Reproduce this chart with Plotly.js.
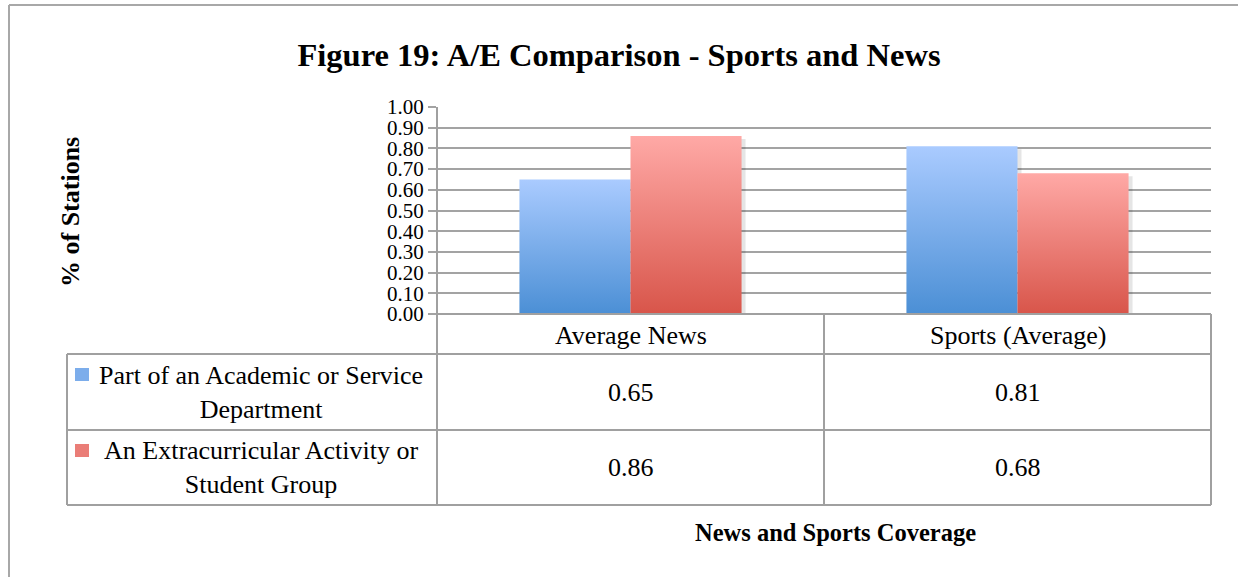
<!DOCTYPE html>
<html>
<head>
<meta charset="utf-8">
<script src="https://cdn.plot.ly/plotly-3.0.1.min.js"></script>
<style>
  html, body { margin: 0; padding: 0; background: #ffffff; overflow: hidden; }
  #chart { width: 1238px; height: 577px; }
</style>
</head>
<body>
<div id="chart"></div>
<script>
// ---------------- data ----------------
const categories = ['Average News', 'Sports (Average)'];
const seriesNames = ['Part of an Academic or Service<br>Department', 'An Extracurricular Activity or<br>Student Group'];
const academic = [0.65, 0.81];
const extracurricular = [0.86, 0.68];
const seriesValues = [academic, extracurricular];
const yTickValues = [0, 0.1, 0.2, 0.3, 0.4, 0.5, 0.6, 0.7, 0.8, 0.9, 1.0];
const chartTitle = 'Figure 19: A/E Comparison - Sports and News';
const yTitle = '% of Stations';
const xTitle = 'News and Sports Coverage';

// ---------------- styles ----------------
const FONT = 'Liberation Serif, Times New Roman, serif';
const GRID = '#a3a3a3';
const LINE = '#a0a0a0';
const gradients = [
  [[0, '#4b8fd5'], [1, '#aacbff']],
  [[0, '#d8554a'], [1, '#ffa9a6']]
];
const keyColors = ['#7cadeb', '#ea7d77'];

const W = 1238, H = 577;
const M = {l: 437, r: 27, t: 107, b: 263};
const PW = W - M.l - M.r, PH = H - M.t - M.b;
const px = x => (x - M.l) / PW;          // pixel -> paper x
const py = y => (H - M.b - y) / PH;      // pixel -> paper y

const bargap = 0.426;
const groupW = 1 - bargap;
const barW = groupW / seriesValues.length;

// ---------------- traces ----------------
const traces = [];
// soft shadows
seriesValues.forEach((vals, s) => {
  vals.forEach((v, i) => {
    const l = i - groupW / 2 + s * barW + 4 / PW * 2;
    const r = l + barW;
    const dy = 3 / PH;
    traces.push({
      type: 'scatter', mode: 'lines', x: [l, l, r, r, l], y: [-dy, v - dy, v - dy, -dy, -dy],
      fill: 'toself', fillcolor: 'rgba(0,0,0,0.10)', line: {width: 0},
      hoverinfo: 'skip', showlegend: false, cliponaxis: false
    });
  });
});
seriesValues.forEach((vals, s) => {
  vals.forEach((v, i) => {
    const l = i - groupW / 2 + s * barW;
    const r = l + barW;
    traces.push({
      type: 'scatter', mode: 'lines', name: seriesNames[s].replace('<br>', ' '),
      x: [l, l, r, r, l], y: [0, v, v, 0, 0],
      fill: 'toself',
      fillgradient: {type: 'vertical', colorscale: gradients[s]},
      line: {width: 0},
      hovertemplate: categories[i] + ': %{text}<extra></extra>',
      text: Array(5).fill(v.toFixed(2)),
      showlegend: false
    });
  });
});

// ---------------- shapes (data table) ----------------
const shapes = [];
const ln = (x0, y0, x1, y1, color, width) => shapes.push({
  type: 'line', xref: 'paper', yref: 'paper',
  x0: px(x0), y0: py(y0), x1: px(x1), y1: py(y1),
  line: {color: color || LINE, width: width || 2}
});
// outer chart border (top and left edges visible)
ln(9, 5, 1260, 5, '#a8a8a8', 2);
ln(9, 5, 9, 600, '#a8a8a8', 2);
const tableTop = 314, row1 = 354, row2 = 430, row3 = 505;
const colL = 67, colA = 437, colB = 824, colR = 1211;
ln(colA, tableTop, colR, tableTop);
ln(colL, row1, colR, row1);
ln(colL, row2, colR, row2);
ln(colL, row3, colR, row3);
ln(colL, row1, colL, row3);
ln(colA, M.t, colA, row3);
ln(colB, tableTop, colB, row3);
ln(colR, tableTop, colR, row3);
// legend keys
const keyTop = [368, 444];
keyColors.forEach((c, s) => {
  shapes.push({type: 'rect', xref: 'paper', yref: 'paper',
    x0: px(75), x1: px(89), y0: py(keyTop[s]), y1: py(keyTop[s] + 13),
    line: {width: 0}, fillcolor: c});
});

// ---------------- annotations ----------------
const annotations = [];
const colCenters = [(colA + colB) / 2, (colB + colR) / 2];
const rowCenters = [(row1 + row2) / 2, (row2 + row3) / 2];
categories.forEach((c, i) => annotations.push({
  xref: 'paper', yref: 'paper', x: px(colCenters[i]), y: py((tableTop + row1) / 2 + 1),
  text: c, showarrow: false, xanchor: 'center', yanchor: 'middle',
  font: {family: FONT, size: 26, color: '#000'}
}));
seriesValues.forEach((vals, s) => {
  vals.forEach((v, i) => annotations.push({
    xref: 'paper', yref: 'paper', x: px(colCenters[i]), y: py(rowCenters[s]),
    text: v.toFixed(2), showarrow: false, xanchor: 'center', yanchor: 'middle',
    font: {family: FONT, size: 26, color: '#000'}
  }));
  annotations.push({
    xref: 'paper', yref: 'paper', x: px(261), y: py(rowCenters[s]),
    text: seriesNames[s], showarrow: false, xanchor: 'center', yanchor: 'middle',
    align: 'center',
    font: {family: FONT, size: 26, color: '#000'}
  });
});
annotations.push({
  xref: 'paper', yref: 'paper', x: px(70), y: py(212), textangle: -90,
  text: '<b>' + yTitle + '</b>', showarrow: false, xanchor: 'center', yanchor: 'middle',
  font: {family: FONT, size: 26, color: '#000'}
});
annotations.push({
  xref: 'paper', yref: 'paper', x: px(835), y: py(532),
  text: '<b>' + xTitle + '</b>', showarrow: false, xanchor: 'center', yanchor: 'middle',
  font: {family: FONT, size: 24.5, color: '#000'}
});

const layout = {
  width: W, height: H,
  margin: M,
  paper_bgcolor: '#ffffff', plot_bgcolor: '#ffffff',
  showlegend: false,
  title: {text: '<b>' + chartTitle + '</b>', x: 0.5, xref: 'container', xanchor: 'center',
          y: 1 - 55 / H, yref: 'container', yanchor: 'middle',
          font: {family: FONT, size: 32.5, color: '#000'}},
  xaxis: {range: [-0.5, 1.5], showgrid: false, zeroline: false, showline: false,
          showticklabels: false, ticks: '', fixedrange: true},
  yaxis: {range: [0, 1], tickvals: yTickValues, tickformat: '.2f',
          showgrid: true, gridcolor: GRID, gridwidth: 2, zeroline: false,
          showline: false, ticks: 'outside', ticklen: 8, tickcolor: GRID, tickwidth: 2,
          tickfont: {family: FONT, size: 21, color: '#000'}, fixedrange: true},
  shapes: shapes,
  annotations: annotations
};

Plotly.newPlot('chart', traces, layout, {displayModeBar: false, staticPlot: true});
</script>
</body>
</html>
